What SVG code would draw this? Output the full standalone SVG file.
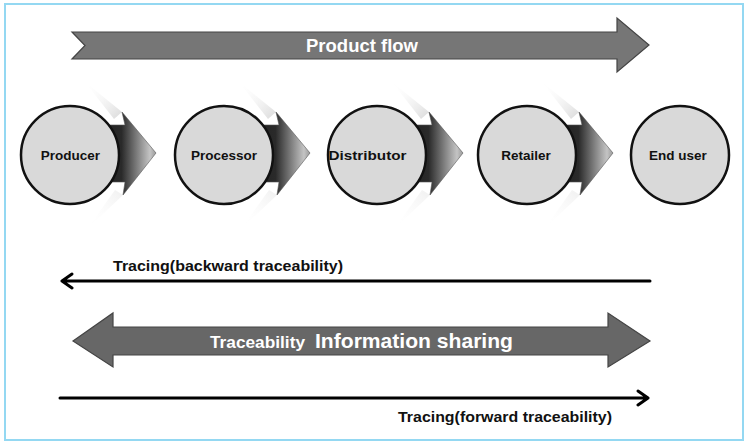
<svg xmlns="http://www.w3.org/2000/svg" width="745" height="441" viewBox="0 0 745 441">
<defs>
<linearGradient id="chev" x1="0" y1="0" x2="1" y2="0">
<stop offset="0" stop-color="#111"/>
<stop offset="0.6" stop-color="#2a2a2a"/>
<stop offset="0.93" stop-color="#c4c4c4"/>
<stop offset="1" stop-color="#9a9a9a"/>
</linearGradient>
<linearGradient id="streak" x1="0" y1="0" x2="1" y2="1">
<stop offset="0" stop-color="#fff" stop-opacity="0"/>
<stop offset="1" stop-color="#aaa" stop-opacity="0.45"/>
</linearGradient>
<linearGradient id="streak2" x1="0" y1="1" x2="1" y2="0">
<stop offset="0" stop-color="#fff" stop-opacity="0"/>
<stop offset="1" stop-color="#ccc" stop-opacity="0.3"/>
</linearGradient>
<symbol id="chevron" overflow="visible">
<path d="M15,82 L52,112 L44,119 Z" fill="url(#streak)"/>
<path d="M18,228 L53,195 L45,190 Z" fill="url(#streak2)"/>
<path d="M0,125 L55,125 L52,112 L86,153 L53,195 L55,182 L0,182 Z" fill="url(#chev)" stroke="#555" stroke-width="0.6"/>
</symbol>
</defs>
<style>
.lbl{font-family:"Liberation Sans",Arial,sans-serif;font-weight:bold;font-size:13.5px;fill:#111;text-anchor:middle}
.wt{font-family:"Liberation Sans",Arial,sans-serif;font-weight:bold;fill:#fff}
.tr{font-family:"Liberation Sans",Arial,sans-serif;font-weight:bold;font-size:15.5px;fill:#111}
.circ{fill:#d9d9d9;stroke:#111;stroke-width:2.5}
.big{fill:#767676;stroke:#444;stroke-width:1.2}
.ln{fill:none;stroke:#000;stroke-width:3;stroke-linecap:round;stroke-linejoin:round}
</style>
<rect x="5" y="4" width="738" height="436" fill="#fff" stroke="#94d8f2" stroke-width="2"/>

<g id="product-flow">
<path class="big" d="M72,32 L617,32 L617,18 L649,45 L617,72 L617,59 L72,59 L85,45.5 Z"/>
<text class="wt" x="306" y="51.5" font-size="18" textLength="112" lengthAdjust="spacingAndGlyphs">Product flow</text>
</g>

<g id="connectors">
<use href="#chevron" x="70" y="0"/>
<use href="#chevron" x="224" y="0"/>
<use href="#chevron" x="377" y="0"/>
<use href="#chevron" x="527" y="0"/>
</g>

<g id="producer"><circle class="circ" cx="70" cy="155" r="49"/><text class="lbl" x="70.5" y="160">Producer</text></g>
<g id="processor"><circle class="circ" cx="224" cy="155" r="49"/><text class="lbl" x="224" y="160">Processor</text></g>
<g id="distributor"><circle class="circ" cx="377" cy="155" r="49"/><text class="lbl" x="367.5" y="160" textLength="78" lengthAdjust="spacingAndGlyphs">Distributor</text></g>
<g id="retailer"><circle class="circ" cx="527" cy="155" r="49"/><text class="lbl" x="526" y="160">Retailer</text></g>
<g id="end-user"><circle class="circ" cx="680" cy="155" r="49"/><text class="lbl" x="678" y="160">End user</text></g>

<g id="backward">
<path class="ln" d="M650,281 L62,281 M72,274 L62,281 L72,288"/>
<text class="tr" x="113" y="270.5" textLength="230" lengthAdjust="spacingAndGlyphs">Tracing(backward traceability)</text>
</g>

<g id="info-sharing">
<path class="big" d="M73,341 L113,313 L113,327 L608,327 L608,313 L650,341 L608,367 L608,355 L113,355 L113,367 Z" style="fill:#676767"/>
<text class="wt" x="210" y="348" font-size="16.5" textLength="95" lengthAdjust="spacingAndGlyphs">Traceability</text>
<text class="wt" x="315" y="348" font-size="20.5" textLength="198" lengthAdjust="spacingAndGlyphs">Information sharing</text>
</g>

<g id="forward">
<path class="ln" d="M60,398 L648,398 M638,391 L648,398 L638,405"/>
<text class="tr" x="398" y="421.5" textLength="214" lengthAdjust="spacingAndGlyphs">Tracing(forward traceability)</text>
</g>
</svg>
